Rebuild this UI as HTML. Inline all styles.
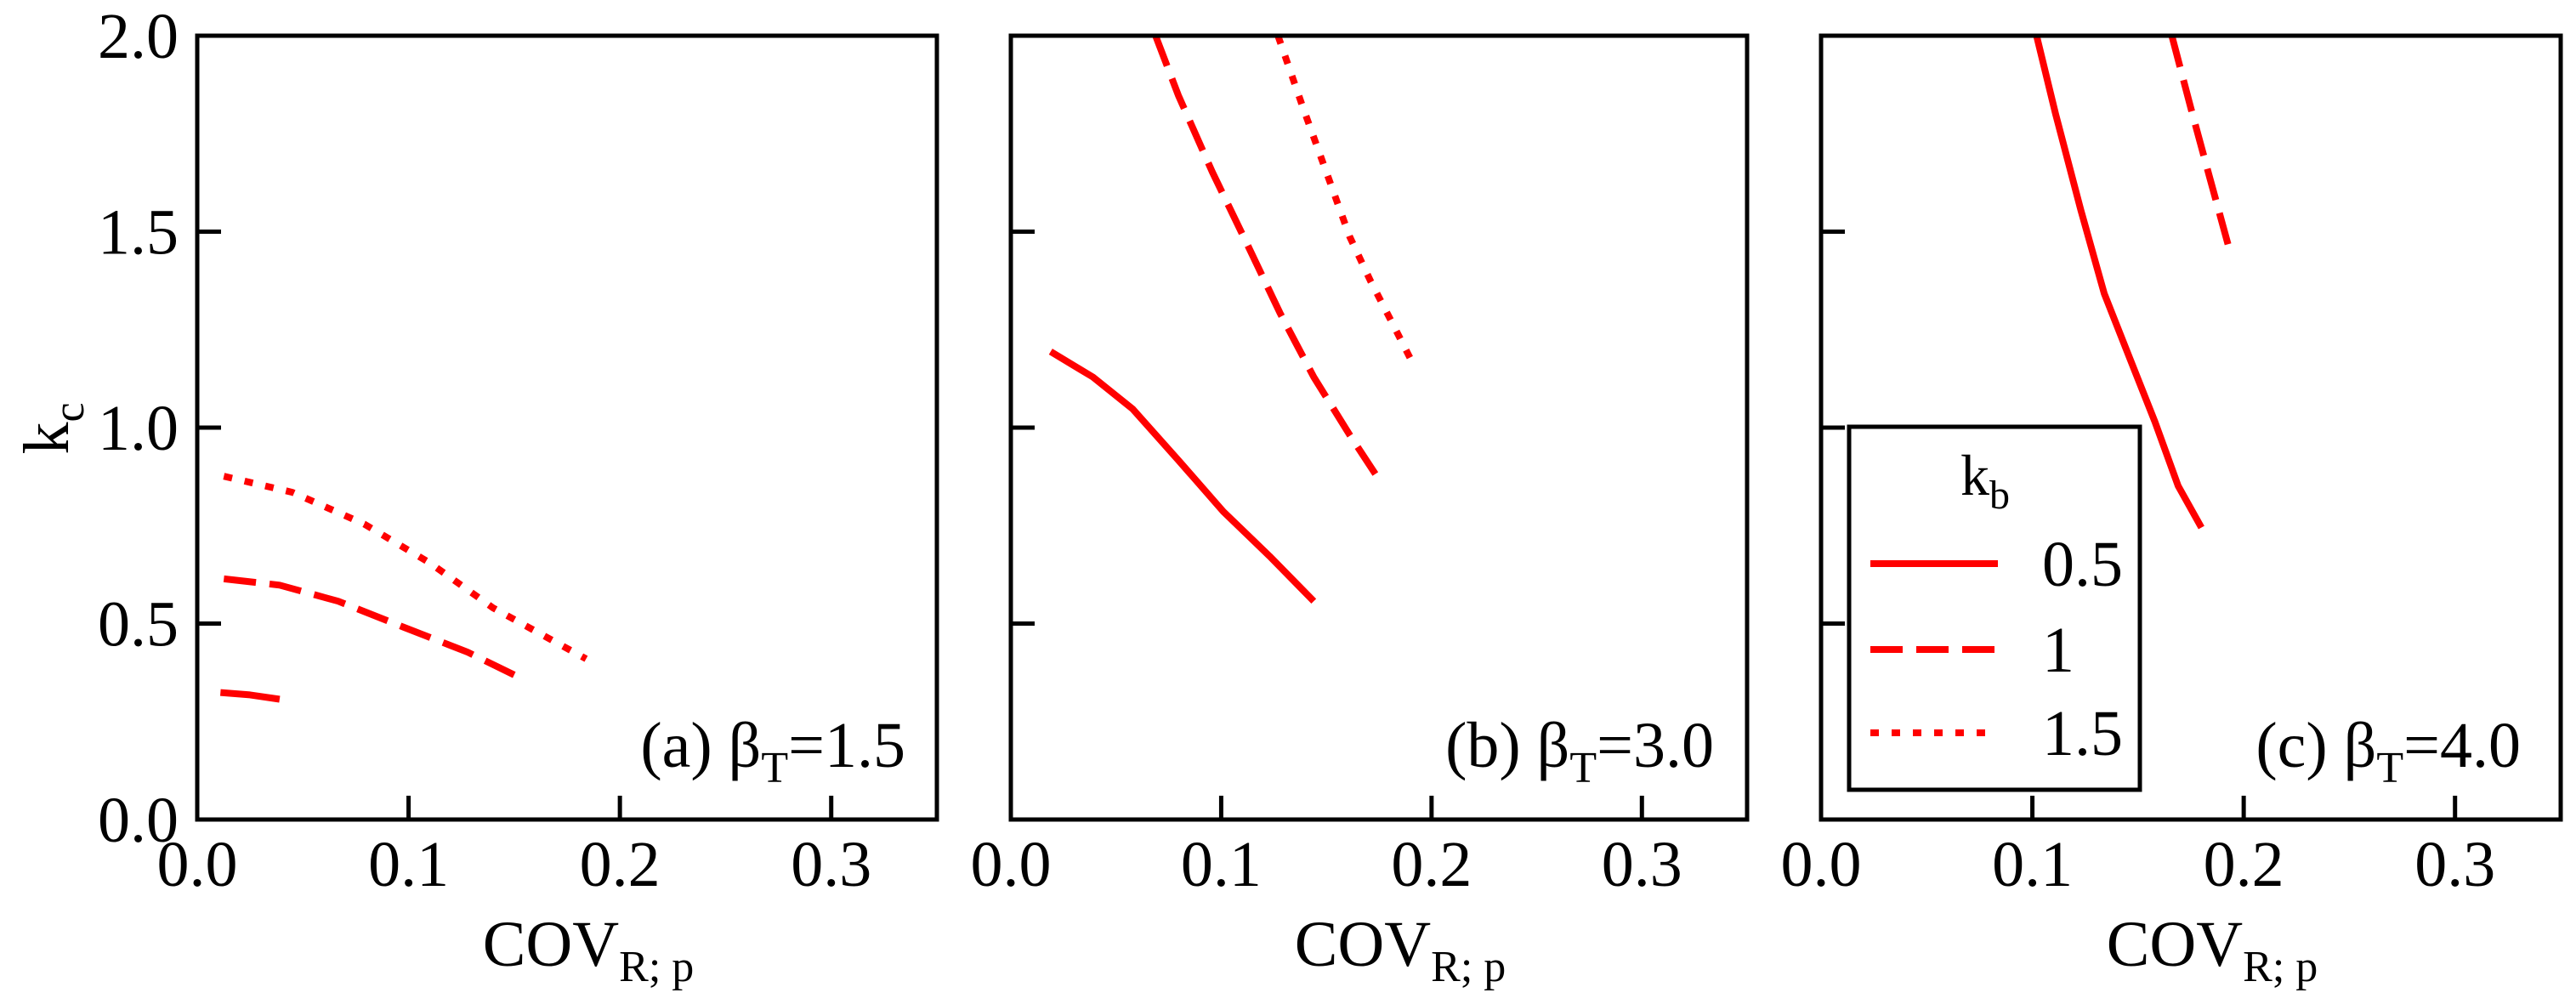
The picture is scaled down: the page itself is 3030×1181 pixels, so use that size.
<!DOCTYPE html>
<html><head><meta charset="utf-8"><style>
html,body{margin:0;padding:0;background:#fff;}
svg{display:block;font-family:"Liberation Serif",serif;}
</style></head><body>
<svg id="chart" width="3030" height="1181" viewBox="0 0 3030 1181"></svg>
<script>
const xTicks=[0.0,0.1,0.2,0.3];
const yTicks=[0.0,0.5,1.0,1.5,2.0];
const xMax=0.35, yMax=2.0;
const panelTitles=["(a) β","(b) β","(c) β"];
const panelBetas=["=1.5","=3.0","=4.0"];
const seriesKb=["0.5","1","1.5"];
// panel a
const aSolidX=[0.011,0.025,0.039];
const aSolidY=[0.324,0.318,0.307];
const aDashX=[0.0126,0.039,0.0667,0.0975,0.128,0.15];
const aDashY=[0.614,0.598,0.557,0.491,0.427,0.369];
const aDotX=[0.0126,0.045,0.079,0.11,0.14,0.184];
const aDotY=[0.876,0.835,0.754,0.655,0.54,0.41];
// panel b
const bSolidX=[0.0189,0.039,0.058,0.0796,0.101,0.123,0.144];
const bSolidY=[1.194,1.129,1.047,0.917,0.786,0.672,0.557];
const bDashX=[0.0688,0.0796,0.0958,0.112,0.128,0.144,0.161,0.174];
const bDashY=[2.0,1.848,1.652,1.472,1.292,1.129,0.982,0.876];
const bDotX=[0.127,0.139,0.150,0.161,0.171,0.182,0.192];
const bDotY=[2.0,1.815,1.652,1.488,1.374,1.260,1.154];
// panel c
const cSolidX=[0.102,0.111,0.123,0.134,0.146,0.158,0.169,0.180];
const cSolidY=[2.0,1.80,1.554,1.342,1.178,1.015,0.851,0.745];
const cDashX=[0.166,0.175,0.184,0.194];
const cDashY=[2.0,1.815,1.636,1.44];

const NS="http://www.w3.org/2000/svg";
const svgEl=document.getElementById('chart');
function mk(tag,attrs,parent){const e=document.createElementNS(NS,tag);for(const k in attrs)e.setAttribute(k,attrs[k]);(parent||svgEl).appendChild(e);return e;}
function tsp(parent,txt,attrs){const t=mk('tspan',attrs||{},parent);t.textContent=txt;return t;}
const panels=[{l:232,r:1102},{l:1189,r:2055},{l:2142,r:3012}];
const plotTop=42,plotBot=964;
const styles={solid:"none",dash:"38 16",dot:"10 15"};
const data=[
 [[aSolidX,aSolidY,'solid'],[aDashX,aDashY,'dash'],[aDotX,aDotY,'dot']],
 [[bSolidX,bSolidY,'solid'],[bDashX,bDashY,'dash'],[bDotX,bDotY,'dot']],
 [[cSolidX,cSolidY,'solid'],[cDashX,cDashY,'dash']]
];
const anRight=[1065,2016,2965];
panels.forEach((p,i)=>{
  const g=mk('g',{});
  
  
  const xs=v=>p.l+(v/xMax)*(p.r-p.l);
  const ys=v=>plotBot-(v/yMax)*(plotBot-plotTop);
  const clip=mk('clipPath',{id:'clip'+i},g);
  mk('rect',{x:p.l,y:plotTop,width:p.r-p.l,height:plotBot-plotTop},clip);
  data[i].forEach(s=>{
    const d=s[0].map((x,j)=>(j?'L':'M')+xs(x).toFixed(1)+' '+ys(s[1][j]).toFixed(1)).join(' ');
    const path=mk('path',{d:d,fill:'none',stroke:'#ff0000','stroke-width':8,'stroke-linejoin':'round','stroke-dasharray':styles[s[2]],'clip-path':'url(#clip'+i+')'},g);
    
    
  });
  const frame=mk('rect',{x:p.l,y:plotTop,width:p.r-p.l,height:plotBot-plotTop,fill:'none',stroke:'#000','stroke-width':5},g);
  
  
  xTicks.forEach(t=>{
    if(t>0) mk('line',{x1:xs(t),x2:xs(t),y1:plotBot,y2:plotBot-28,stroke:'#000','stroke-width':5},g);
    const tx=mk('text',{x:xs(t),y:1042,'font-size':76,'text-anchor':'middle'},g);
    tx.textContent=t.toFixed(1);
    
    
  });
  yTicks.forEach(t=>{
    if(t>0&&t<2) mk('line',{x1:p.l,x2:p.l+28,y1:ys(t),y2:ys(t),stroke:'#000','stroke-width':5},g);
    if(i===0){
      const ty=mk('text',{x:210,y:ys(t)+26,'font-size':76,'text-anchor':'end'},g);
      ty.textContent=t.toFixed(1);
      
      
    }
  });
  const xt=mk('text',{x:(p.l+p.r)/2+25,y:1136,'font-size':76,'text-anchor':'middle'},g);
  tsp(xt,'COV');
  tsp(xt,'R; p',{'font-size':52,dy:18});
  
  
  const an=mk('text',{x:anRight[i],y:902,'font-size':76,'text-anchor':'end'},g);
  tsp(an,panelTitles[i]);
  tsp(an,'T',{'font-size':52,dy:18});
  tsp(an,panelBetas[i],{dy:-18});
  
  
});
const yl=mk('text',{x:0,y:0,'font-size':76,'text-anchor':'middle',transform:'translate(80,504) rotate(-90)'});
tsp(yl,'k');
tsp(yl,'c',{'font-size':52,dy:18});


// legend
const lg=mk('g',{});


mk('rect',{x:2175,y:502,width:342,height:427,fill:'#fff',stroke:'#000','stroke-width':5},lg);
const lt=mk('text',{x:2335,y:582,'font-size':68,'text-anchor':'middle'},lg);
tsp(lt,'k');
tsp(lt,'b',{'font-size':48,dy:16});


const legY=[663,764,862];
const legDash=['none','38 16','10 15'];
seriesKb.forEach((k,j)=>{
  const ln=mk('line',{x1:2200,x2:2350,y1:legY[j],y2:legY[j],stroke:'#ff0000','stroke-width':8,'stroke-dasharray':legDash[j]},lg);
  
  
  const t=mk('text',{x:2402,y:legY[j]+26,'font-size':76},lg);
  t.textContent=k;
  
  
});
</script>
</body></html>
